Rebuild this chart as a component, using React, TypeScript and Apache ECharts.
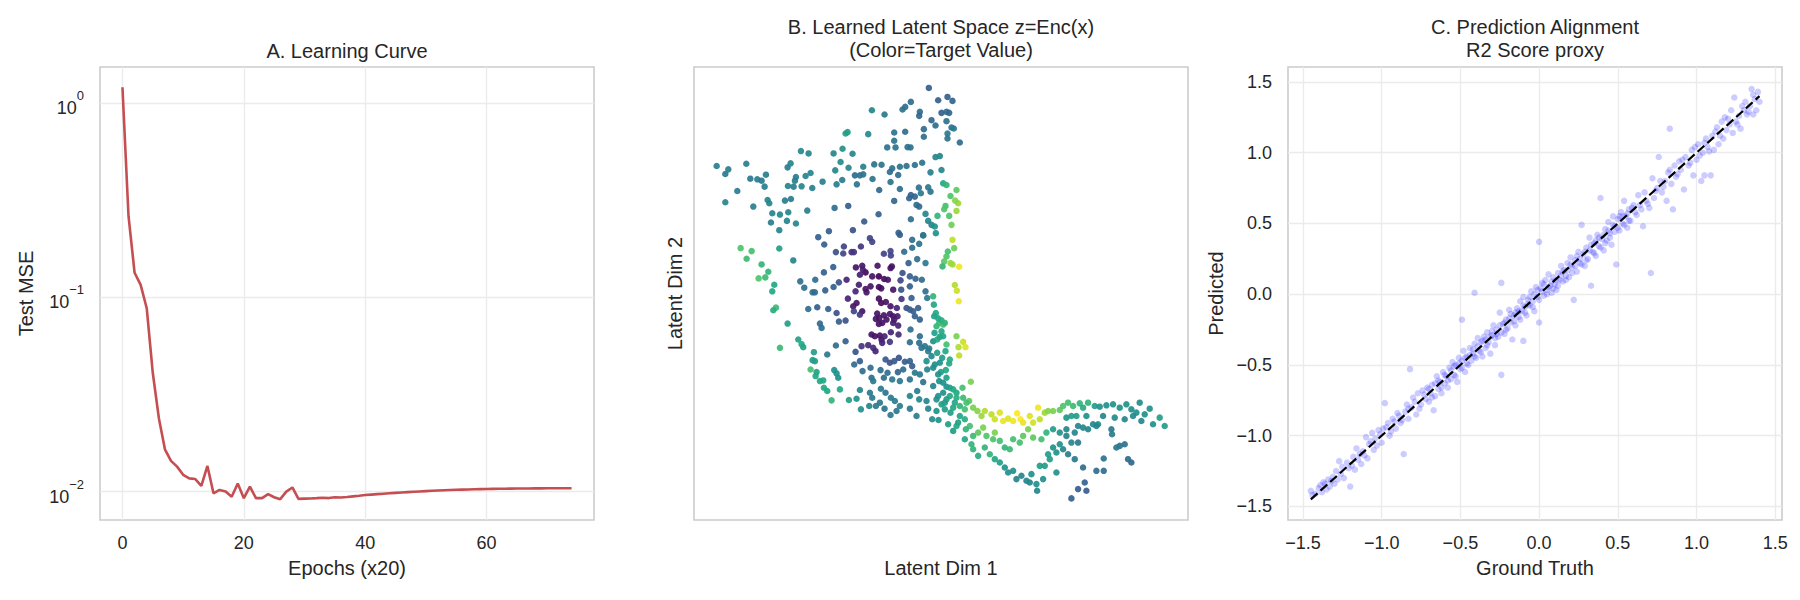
import React, { useEffect, useRef } from "react";
import * as echarts from "echarts";

// ---------- Panel A: learning curve ----------
const testMse = [
  1.21, 0.262, 0.134, 0.116, 0.088, 0.0408, 0.0239, 0.0165, 0.0144, 0.01345,
  0.0122, 0.0117, 0.0116, 0.0107, 0.01356, 0.0098, 0.0102, 0.01, 0.0094, 0.011,
  0.00925, 0.0106, 0.00925, 0.00925, 0.0097, 0.00935, 0.00914, 0.01, 0.0105, 0.00917,
  0.0092, 0.00922, 0.00925, 0.0093, 0.00926, 0.00935, 0.00933, 0.00938, 0.00945, 0.00952,
  0.0096, 0.00965, 0.0097, 0.00975, 0.0098, 0.00985, 0.0099, 0.00994, 0.00998, 0.01002,
  0.01006, 0.0101, 0.01013, 0.01016, 0.01019, 0.01022, 0.01024, 0.01026, 0.01028, 0.0103,
  0.01032, 0.01033, 0.01034, 0.01035, 0.01036, 0.01037, 0.01038, 0.01038, 0.01039, 0.01039,
  0.0104, 0.0104, 0.0104, 0.0104, 0.0104,
];
const epochTicks = [0, 20, 40, 60];
const mseTicks = [0.01, 0.1, 1];

// ---------- Panel B: latent space [z1, z2, target] ----------
const latentPoints = [
  [-0.53,5.87,.3],[-0.25,5.5,.3],[0.03,5.6,.3],[0.18,5.48,.32],[-1.07,5.45,.35],[-1.24,5.3,.38],[-1.32,5.22,.38],[-0.8,5.15,.35],[-0.82,5.03,.33],[-0.15,5.12,.3],
  [0,5.15,.35],[0.08,5.12,.33],[-2.24,5.2,.45],[-1.86,5.07,.4],[-0.45,4.9,.33],[-0.33,4.74,.36],[0,4.87,.38],[0.15,4.68,.38],[0.22,4.65,.4],[-0.68,4.63,.35],
  [-1.57,4.53,.38],[-1.24,4.55,.35],[-0.68,4.4,.35],[0.03,4.5,.4],[0.03,4.35,.38],[0.4,4.23,.35],[-1.57,4.28,.38],[-1.78,4.08,.38],[-1.53,4.08,.38],[-1.17,4.09,.38],
  [-1.08,4.08,.38],[-3.03,4.5,.55],[-2.97,4.54,.55],[-2.35,4.48,.47],[-3.12,4.04,.5],
  [-4.37,3.97,.47],[-4.14,3.9,.45],[-3.39,3.9,.45],[-2.82,3.89,.45],[-3.18,3.64,.48],[-6.9,3.52,.42],[-6.55,3.42,.42],[-6.64,3.28,.4],[-6.01,3.59,.42],[-5.89,3.14,.4],
  [-5.68,3.12,.42],[-5.55,3.08,.4],[-5.42,3.26,.42],[-4.77,3.48,.42],[-4.68,3.6,.45],[-4.52,3.19,.42],[-4.55,3.08,.42],[-4.23,3.22,.45],[-4.08,3.31,.45],[-3.72,3.05,.42],
  [-3.34,3.39,.45],[-2.94,3.47,.45],[-2.5,3.5,.43],[-2.17,3.57,.38],[-1.95,3.56,.38],[-1.63,3.45,.37],[-1.4,3.5,.38],[-1.2,3.52,.38],[-0.95,3.55,.38],[-0.73,3.62,.38],
  [-0.33,3.79,.45],[-0.2,3.82,.45],[-0.15,3.4,.45],[-0.48,3.33,.42],[-1.7,3.34,.36],[-1.45,3.25,.36],[-2.75,3.24,.36],[-2.6,3.24,.38],[-2.5,3.27,.38],[-2.22,3.13,.38],
  [-3.3,2.97,.42],[-3.13,3.1,.42],[-2.69,2.97,.38],[-1.68,3.04,.38],[-6.28,2.77,.42],[-5.46,2.9,.42],[-4.76,2.92,.45],[-4.59,2.9,.42],[-4.35,2.91,.45],[-4.03,2.86,.42],
  [-2.02,2.8,.33],[-1.4,2.83,.35],[-0.83,2.87,.38],[-0.55,2.88,.4],[-0.48,2.75,.38],[-1.07,2.65,.3],[-0.95,2.6,.32],[-1.12,2.55,.32],[-0.77,2.7,.4],[-1.57,2.47,.33],
  [-6.64,2.43,.45],[-5.37,2.5,.45],[-5.32,2.4,.45],[-4.85,2.48,.42],[-4.67,2.53,.42],[-5.8,2.3,.42],[-4.18,2.18,.42],[-3.36,2.26,.36],[-2.95,2.32,.3],[-0.9,2.35,.36],
  [-0.82,2.3,.34],[-5.23,2.1,.45],[-5,2.06,.45],[-4.75,2.13,.45],[-5.27,1.82,.42],[-4.79,1.87,.45],[-4.52,1.79,.45],[-5.02,1.59,.45],[-2.04,2.07,.3],[-2.47,1.85,.28],
  [-1.07,1.92,.35],[-0.63,2.08,.45],[-0.55,1.87,.45],[-0.45,1.75,.45],[-0.35,1.7,.5],[-0.32,1.5,.5],[-0.1,3,.6],[0,2.95,.65],[0.3,2.8,.75],[0.12,2.62,.72],
  [0.35,2.4,.85],[-0.03,2.32,.7],[-0.07,2.22,.72],[0.3,2.17,.85],[-0.27,2.02,.65],[0.08,2.02,.72],[0.15,1.75,.78],[-0.7,1.43,.35],
  [-3.85,1.38,.3],[-3.53,1.56,.3],[-2.81,1.59,.25],[-3.67,1.16,.3],[-3.32,0.93,.25],[-3.1,0.89,.2],[-3.08,1.1,.2],[-2.85,0.93,.15],[-2.78,0.93,.15],[-2.57,1.1,.15],
  [-2.3,1.35,.2],[-2.23,1.24,.2],[-1.88,0.88,.2],[-1.68,0.96,.22],[-1.67,0.83,.2],[-1.44,1.51,.3],[-1.4,1.45,.3],[-1.03,1.3,.35],[-0.82,1.18,.38],[-0.7,1.44,.4],
  [-1.27,0.94,.35],[-1.03,1.06,.35],[-0.88,0.72,.35],[-1.14,0.6,.3],[-0.63,0.6,.4],[-2.72,0.47,.05],[-2.53,0.52,.05],[-2.43,0.32,.02],[-2.23,0.2,.05],[-2.07,0.52,.05],
  [-2.03,0.2,0],[-1.87,0.12,.03],[-1.68,0.45,.05],[-1.64,0.5,.05],[-1.76,0.1,.05],[-2.51,0.4,.08],[-2.6,0.25,.08],[-3,0.1,.1],[-2.63,-0.05,.08],[-2.43,-0.18,.05],
  [-2.4,-0.28,.05],[-2.28,-0.1,.05],[-2.03,-0.12,.03],[-1.96,-0.16,.03],[-1.6,-0.2,.05],[-1.38,0.08,.2],[-1.32,0.3,.25],[-1.1,0.2,.3],[-0.93,0.13,.3],[-0.74,0.1,.35],
  [-1.1,-0.1,.3],[-1.36,-0.2,.25],[-2.73,-0.25,.1],[-3.23,0.02,.25],[-3.39,-0.12,.3],[-3.64,-0.22,.3],[-4.02,-0.28,.35],[-3.95,-0.28,.35],[-4.27,-0.14,.35],[-4.39,0.05,.35],
  [-3.94,0.1,.35],[-3.68,0.32,.3],[-3.4,0.48,.3],[-2.96,-0.47,.1],[-2.7,-0.6,.05],[-2.8,-0.7,.05],[-2.53,-0.85,.05],[-2.03,-0.47,.03],[-1.96,-0.6,.03],[-1.82,-0.57,.05],
  [-1.68,-0.7,.05],[-1.49,-0.75,.1],[-1.35,-0.48,.15],[-1.2,-0.75,.25],[-1.05,-0.45,.3],[-1.1,-0.8,.3],[-1,-0.85,.3],[-0.85,-0.75,.3],[-0.95,-1,.3],[-0.8,-1.1,.3],
  [-0.63,-0.25,.35],[-0.58,-0.45,.4],[-0.4,-0.4,.65],[-0.38,-0.65,.6],[-2.08,-0.92,.05],[-2.02,-1.05,.05],[-1.88,-0.97,.05],[-1.7,-0.93,.05],[-1.6,-1,.05],[-1.47,-1,.08],
  [-1.8,-1.1,.05],[-1.93,-1.2,.05],[-1.6,-1.2,.08],[-1.57,-1.1,.08],[-1.45,-1.28,.1],[-2.03,-1.23,.05],[-2.12,-1.08,.05],[-4.15,-0.78,.35],[-3.88,-0.73,.3],[-3.55,-0.78,.3],
  [-3.3,-0.9,.25],[-2.78,-0.85,.2],[-2.6,-0.95,.15],[-3.23,-1.16,.3],[-3.03,-1.13,.25],[-3.8,-1.22,.35],[-3.75,-1.35,.35],[-2.25,-1.55,.05],[-2.15,-1.6,.05],[-2,-1.58,.05],
  [-1.95,-1.7,.05],[-1.86,-1.6,.1],[-1.67,-1.48,.1],[-1.44,-1.55,.12],[-1.08,-1.4,.35],[-0.8,-1.6,.35],[-1.1,-1.78,.35],[-0.82,-1.8,.35],[-0.75,-1.95,.38],[-0.65,-1.9,.4],
  [-0.52,-1.97,.4],[-0.4,-1.75,.5],[-0.3,-1.3,.65],[-0.22,-1.2,.68],[-0.1,-1.25,.7],[-0.15,-1.45,.6],[-0.2,-1.62,.55],[-0.36,-1.5,.55],[-0.28,-1.7,.6],[0,-1.85,.7],
  [0.3,-1.6,.8],[0.5,-1.77,.92],[0.57,-1.93,.95],[0.36,-1.93,.88],[0.38,-2.18,.9],[0.26,2.48,.82],[0.18,1.3,.9],[0.23,1.05,.78],[0.04,0.95,.7],[0,0.8,.72],
  [-0.07,0.65,.75],[0.12,0.6,.85],[0.18,0.56,.85],[0.38,0.49,.98],[-0.12,0.5,.65],[0.25,-0.06,.88],[0.31,-0.23,.92],[0.37,-0.55,.98],[-2.55,-1.9,.15],[-2.35,-1.87,.12],
  [-2.2,-1.95,.12],[-2.13,-2.05,.1],[-1.93,-1.8,.1],[-1.7,-1.77,.15],[-3.03,-1.75,.3],[-3.32,-1.88,.35],[-2.73,-2.07,.25],[-3.58,-2.15,.4],
  [-6.18,1.05,.72],[-5.85,0.96,.7],[-6,0.73,.68],[-5.55,0.56,.65],[-5.02,1.04,.55],[-4.6,0.68,.45],[-5.35,0.34,.65],[-5.44,0.17,.68],[-5.64,0.14,.72],[-5.17,-0.05,.6],
  [-5.23,-0.25,.6],[-5.12,-0.74,.68],[-5.2,-0.82,.62],[-4.77,-1.22,.55],[-5,-1.95,.68],[-4.45,-1.7,.58],[-4.3,-1.93,.58],[-4.35,-1.84,.6],[-3.98,-2.08,.55],[-4.02,-2.32,.55],
  [-3.95,-2.35,.55],[-4.08,-2.6,.7],[-3.9,-2.68,.58],[-3.93,-2.8,.6],[-3.8,-2.95,.6],[-3.7,-2.93,.6],[-3.68,-3.15,.6],[-3.58,-3.25,.6],[-3.45,-3.53,.65],[-3.2,-3.2,.6],
  [-3.37,-2.62,.5],[-3.3,-2.72,.5],[-3.25,-2.85,.5],
  [-2.77,-2.45,.35],[-2.52,-2.65,.35],[-2.6,-2.35,.3],[-2.28,-2.55,.35],[-2.25,-2.85,.35],[-2.2,-2.95,.4],[-1.83,-2.3,.28],[-1.7,-2.4,.25],[-1.57,-2.35,.28],[-1.43,-2.25,.25],
  [-1.25,-2.37,.3],[-1.1,-2.35,.3],[-1.03,-2.5,.3],[-1.3,-2.6,.35],[-1.46,-2.68,.32],[-1.77,-2.7,.35],[-1.98,-2.62,.35],[-1.88,-2.85,.35],[-1.63,-2.9,.4],[-1.4,-2.95,.4],
  [-1.1,-2.9,.38],[-0.95,-2.7,.4],[-0.8,-2.75,.4],[-0.58,-2.6,.45],[-0.6,-2.35,.5],[-0.35,-2.45,.5],[-0.28,-2.1,.55],[-0.13,-2.25,.55],[0.08,-2.42,.6],[-0.02,-2.62,.6],
  [-0.17,-2.68,.55],[-0.7,-2.98,.38],[-0.4,-3.1,.45],[-0.22,-2.95,.5],[-0.1,-3,.5],[0,-3.12,.5],[0.1,-3.15,.55],[0.2,-3.2,.6],[0.3,-3.3,.6],[0.48,-3.15,.7],
  [0.73,-2.97,.8],[-2.6,-3.22,.45],[-2.3,-3.3,.4],[-2.23,-3.45,.4],[-1.97,-3.18,.4],[-1.83,-3.3,.38],[-2,-3.6,.4],[-1.67,-3.45,.4],[-1.55,-3.55,.42],[-1.4,-3.7,.42],
  [-1.1,-3.4,.45],[-0.88,-3.25,.42],[-0.82,-3.5,.45],[-0.6,-3.55,.45],[-0.55,-3.78,.45],[-2.93,-3.52,.55],[-2.7,-3.48,.5],[-2.57,-3.8,.5],[-2.32,-3.7,.45],[-2.12,-3.7,.4],
  [-1.86,-3.78,.38],[-1.68,-3.97,.4],[-1.5,-3.85,.4],[-1.1,-3.78,.4],[-0.9,-4,.42],[-0.43,-4.1,.48],[-0.24,-4.12,.5],[-0.3,-3.5,.5],[-0.15,-3.65,.55],[-0.05,-3.8,.55],
  [0.12,-3.9,.55],[0.25,-3.6,.6],[0.4,-3.7,.65],[0.55,-3.8,.7],[0.68,-3.55,.75],[0.8,-3.75,.8],[0.93,-3.85,.82],[1.05,-4,.85],[1.15,-3.85,.88],[1.35,-3.95,.9],
  [1.45,-4.1,.92],[1.6,-3.9,.95],[1.7,-4.15,.97],[1.85,-4.08,.95],[2,-4.15,.98],[2.12,-3.92,1],[2.22,-4.1,1],[2.3,-4.2,.97],[2.5,-4,.95],[2.75,-3.75,.98],
  [2.6,-4.2,.93],[2.8,-4.1,.9],[2.95,-3.9,.85],[3.05,-3.85,.82],[3.2,-3.85,.8],[3.4,-3.82,.75],[3.5,-3.7,.72],[3.65,-3.6,.7],[3.8,-3.7,.68],[4,-3.62,.65],
  [4.1,-3.75,.62],[4.25,-3.6,.65],[4.45,-3.7,.55],[4.6,-3.72,.5],[4.8,-3.68,.5],[5,-3.65,.5],[5.2,-3.75,.5],[5.4,-3.65,.5],[5.55,-3.8,.48],[5.7,-3.9,.5],
  [5.8,-3.6,.48],[5.95,-3.95,.5],[6.1,-3.78,.5],[6.2,-4.25,.5],[6.4,-4.05,.55],[6.55,-4.3,.55],[5.35,-4.1,.45],[5.6,-4,.47],[5.05,-4.05,.48],[4.95,-4.4,.4],
  [4.7,-4,.45],[4.55,-4.25,.5],[4.4,-4.25,.47],[4.25,-4.4,.45],[4.1,-4.35,.47],[3.95,-4.3,.45],[3.85,-4.5,.45],[3.6,-4.4,.45],[3.4,-4.5,.5],[3.2,-4.4,.55],
  [3,-4.5,.65],[2.85,-4.7,.7],[2.6,-4.65,.75],[2.45,-4.4,.8],[2.3,-4.6,.75],[2.2,-4.8,.7],[2,-4.7,.7],[1.9,-5,.68],[1.75,-4.95,.65],[1.6,-4.75,.7],
  [1.45,-4.5,.8],[1.4,-4.7,.72],[1.2,-4.6,.72],[1.1,-4.35,.8],[0.95,-4.5,.75],[0.8,-4.6,.68],[0.7,-4.3,.7],[0.58,-4.4,.65],[0.55,-4.7,.6],[0.75,-4.85,.65],
  [0.8,-5,.65],[0.95,-5.2,.62],[1.15,-4.95,.65],[1.3,-5.15,.65],[1.45,-5.3,.6],[1.6,-5.4,.55],[1.75,-5.55,.5],[1.85,-5.7,.5],[2,-5.65,.5],[2.1,-5.9,.45],
  [2.25,-5.8,.45],[2.4,-5.95,.45],[2.55,-5.75,.5],[2.5,-6,.45],[2.7,-6.05,.5],[2.72,-6.25,.45],[2.9,-5.9,.5],[2.8,-5.5,.55],[2.95,-5.5,.55],[3.1,-5.3,.55],
  [3.05,-5.15,.55],[3.2,-4.95,.5],[3.3,-5.1,.5],[3.3,-5.7,.5],[3.4,-4.85,.5],[3.5,-5,.45],[3.6,-4.6,.45],[3.75,-4.8,.45],[3.65,-5.15,.42],[3.85,-5.3,.4],
  [3.95,-4.8,.4],[4.1,-5.55,.35],[4.15,-6,.32],[3.95,-6.2,.3],[4.2,-6.25,.3],[3.75,-6.48,.3],[4.5,-5.65,.35],[4.72,-5.65,.35],[4.72,-5.28,.38],[4.97,-4.55,.42],
  [5.2,-4.9,.38],[5.35,-4.85,.38],[5.45,-5.3,.35],[5.55,-5.4,.33],[5.85,-4.15,.45],[5.1,-4.95,.4],[4.5,-4.3,.45],[4.2,-4,.5],[3.9,-4,.55],[3.75,-4,.55],
  [3.6,-4.05,.52],[0.1,-3.4,.6],[0.3,-3.45,.62],[0.2,-3.75,.6],[0.4,-4,.6],[0.35,-4.2,.55],[0.55,-4.1,.62],[0,-3.5,.55],[-0.1,-3.3,.5],[-0.3,-3.85,.5],
  [0.05,-4.25,.55],[0.2,-4.45,.55],[0.3,-4.3,.6],[0.6,-3.6,.7],[0.5,-3.45,.68],[-0.25,-2.75,.5],[0,-2.85,.55],[-0.25,-3.4,.5],[-0.05,-3.6,.55],[-0.37,-1,.55],
  [-0.25,-1.06,.6],[-0.15,-1.12,.62],[-0.05,-1.2,.65],[-0.32,-0.9,.6],[-0.1,-1.6,.6],[-0.03,-2.05,.6],[0.1,-2.3,.62],[-0.2,-2.4,.5],[-0.45,-2.2,.45],[-0.55,-2.05,.42],
  [-0.4,-2.55,.48],
];

// ---------- Panel C: ground truth vs predicted ----------
const alignmentPoints = [
  [-1.45,-1.39],[-1.42,-1.41],[-1.40,-1.37],[-1.38,-1.40],[-1.37,-1.33],[-1.35,-1.38],[-1.34,-1.31],[-1.33,-1.36],[-1.31,-1.29],[-1.30,-1.34],
  [-1.29,-1.25],[-1.28,-1.31],[-1.27,-1.18],[-1.25,-1.22],[-1.24,-1.30],[-1.22,-1.19],[-1.20,-1.36],[-1.19,-1.21],[-1.18,-1.15],[-1.17,-1.24],
  [-1.16,-1.09],[-1.15,-1.17],[-1.13,-1.20],[-1.12,-1.11],[-1.10,-1.01],[-1.09,-1.16],[-1.08,-1.06],[-1.06,-0.98],[-1.05,-1.10],[-1.04,-1.02],
  [-1.02,-0.96],[-1.00,-1.05],[-0.99,-0.95],[-0.98,-0.77],[-0.96,-0.91],[-0.95,-1.00],[-0.93,-0.88],[-0.91,-0.95],[-0.90,-0.84],[-0.88,-0.91],
  [-0.86,-1.13],[-0.85,-0.83],[-0.84,-0.78],[-0.83,-0.88],[-0.82,-0.53],[-0.81,-0.80],[-0.80,-0.73],[-0.78,-0.85],[-0.77,-0.70],[-0.75,-0.78],
  [-0.74,-0.68],[-0.72,-0.74],[-0.71,-0.66],[-0.70,-0.76],[-0.69,-0.70],[-0.68,-0.64],[-0.67,-0.82],[-0.66,-0.72],[-0.65,-0.58],[-0.64,-0.67],
  [-0.63,-0.62],[-0.62,-0.70],[-0.61,-0.55],[-0.60,-0.63],[-0.59,-0.58],[-0.58,-0.66],[-0.57,-0.52],[-0.56,-0.60],[-0.55,-0.48],[-0.54,-0.57],
  [-0.53,-0.50],[-0.52,-0.62],[-0.51,-0.45],[-0.50,-0.53],[-0.49,-0.47],[-0.48,-0.40],[-0.47,-0.55],[-0.46,-0.44],[-0.45,-0.50],[-0.44,-0.38],
  [-0.43,-0.47],[-0.42,-0.42],[-0.41,-0.35],[-0.40,-0.45],[-0.39,-0.31],[-0.38,-0.40],[-0.37,-0.34],[-0.36,-0.44],[-0.35,-0.30],[-0.34,-0.38],
  [-0.33,-0.27],[-0.32,-0.34],[-0.31,-0.42],[-0.30,-0.29],[-0.29,-0.22],[-0.28,-0.36],[-0.27,-0.25],[-0.26,-0.30],[-0.25,-0.13],[-0.24,-0.57],
  [-0.23,-0.21],[-0.22,-0.28],[-0.21,-0.18],[-0.20,-0.24],[-0.19,-0.11],[-0.18,-0.20],[-0.17,-0.32],[-0.16,-0.15],[-0.15,-0.22],[-0.14,-0.10],
  [-0.13,-0.16],[-0.12,-0.05],[-0.11,-0.12],[-0.10,-0.33],[-0.10,-0.02],[-0.09,-0.09],[-0.08,-0.15],[-0.07,-0.04],[-0.06,-0.08],[-0.05,0.02],
  [-0.04,-0.05],[-0.03,-0.12],[-0.02,0.05],[-0.01,-0.02],[0.00,0.37],[0.00,-0.20],[0.01,0.04],[0.02,0.08],[0.03,-0.01],[0.04,0.10],
  [0.05,0.03],[0.06,0.14],[0.07,0.06],[0.08,0.01],[0.09,0.12],[0.10,0.07],[0.11,0.03],[0.12,0.15],[0.13,0.10],[0.14,0.20],
  [0.15,0.09],[0.16,0.17],[0.17,0.13],[0.18,0.22],[0.19,0.12],[0.20,0.26],[0.21,0.19],[0.22,-0.04],[0.23,0.24],[0.24,0.16],
  [0.25,0.30],[0.26,0.22],[0.27,0.49],[0.28,0.28],[0.29,0.20],[0.30,0.33],[0.31,0.25],[0.32,0.40],[0.33,0.06],[0.34,0.30],
  [0.35,0.36],[0.36,0.27],[0.37,0.42],[0.38,0.34],[0.39,0.68],[0.40,0.39],[0.41,0.31],[0.42,0.46],[0.43,0.38],[0.44,0.51],
  [0.45,0.43],[0.46,0.35],[0.47,0.55],[0.48,0.48],[0.49,0.21],[0.50,0.53],[0.51,0.45],[0.52,0.58],[0.53,0.50],[0.54,0.66],
  [0.55,0.55],[0.56,0.47],[0.57,0.60],[0.58,0.52],[0.60,0.63],[0.62,0.56],[0.63,0.70],[0.65,0.60],[0.66,0.48],[0.68,0.66],
  [0.70,0.61],[0.71,0.15],[0.72,0.82],[0.73,0.68],[0.75,0.75],[0.76,0.97],[0.78,0.72],[0.80,0.80],[0.81,0.66],[0.82,0.86],
  [0.84,0.78],[0.85,0.60],[0.86,0.91],[0.87,0.83],[0.89,0.94],[0.90,0.88],[0.92,0.74],[0.93,0.97],[0.95,0.91],[0.97,1.02],
  [0.98,0.84],[1.00,0.95],[1.01,1.06],[1.03,0.80],[1.04,1.00],[1.06,1.10],[1.07,1.04],[1.09,0.84],[1.10,1.12],[1.11,1.02],
  [1.13,1.18],[1.14,1.06],[1.16,1.22],[1.17,1.10],[1.18,1.25],[1.19,1.16],[1.21,1.20],[1.22,1.30],[1.23,1.14],[1.24,1.39],
  [1.25,1.22],[1.27,1.26],[1.28,1.17],[1.30,1.30],[1.31,1.36],[1.32,1.27],[1.34,1.33],[1.35,1.45],[1.36,1.27],[1.37,1.38],
  [1.38,1.30],[1.39,1.43],[1.40,1.36],
  [-0.79,-0.76],[-0.76,-0.81],[-0.73,-0.71],[-0.70,-0.67],[-0.68,-0.73],[-0.66,-0.63],[-0.64,-0.61],[-0.62,-0.66],[-0.60,-0.57],[-0.58,-0.61],
  [-0.56,-0.54],[-0.54,-0.51],[-0.53,-0.58],[-0.51,-0.49],[-0.49,-0.52],[-0.47,-0.45],[-0.46,-0.49],[-0.44,-0.43],[-0.42,-0.39],[-0.41,-0.44],
  [-0.39,-0.37],[-0.37,-0.41],[-0.36,-0.33],[-0.34,-0.32],[-0.33,-0.36],[-0.31,-0.30],[-0.30,-0.26],[-0.28,-0.31],[-0.27,-0.28],[-0.25,-0.22],
  [-0.24,-0.27],[-0.22,-0.20],[-0.21,-0.25],[-0.19,-0.17],[-0.18,-0.14],[-0.16,-0.19],[-0.15,-0.13],[-0.13,-0.12],[-0.12,-0.18],[-0.10,-0.08],
  [-0.09,-0.13],[-0.07,-0.07],[-0.06,-0.02],[-0.04,-0.09],[-0.03,0.00],[-0.01,0.03],[0.00,-0.04],[0.02,0.02],[0.03,0.07],[0.05,0.00],
  [0.06,0.05],[0.08,0.09],[0.09,0.04],[0.11,0.10],[0.12,0.06],[0.14,0.13],[0.15,0.16],[0.17,0.10],[0.18,0.17],[0.20,0.21],
  [0.21,0.15],[0.23,0.20],[0.24,0.27],[0.26,0.25],[0.27,0.21],[0.29,0.30],[0.30,0.24],[0.32,0.31],[0.33,0.35],[0.35,0.29],
  [0.36,0.38],[0.38,0.40],[0.39,0.33],[0.41,0.42],[0.42,0.36],[0.44,0.45],[0.45,0.40],[0.47,0.49],[0.48,0.44],[0.50,0.47],
  [0.51,0.55],[0.53,0.55],[0.54,0.49],[0.56,0.57],[0.57,0.52],[0.59,0.61],[0.61,0.58],[0.64,0.63],[0.67,0.72],[0.69,0.64],
  [0.74,0.73],[0.77,0.80],[0.79,0.76],[0.83,0.88],[0.88,0.85],[0.91,0.95],[0.96,0.93],[0.99,1.04],[1.02,0.98],[1.05,1.07],
  [1.08,1.01],[1.12,1.15],[1.15,1.12],[1.20,1.24],[1.26,1.20],[1.29,1.33],[1.33,1.29],[1.36,1.41],
  [-1.44,-1.42],[-1.39,-1.35],[-1.36,-1.34],[-1.32,-1.32],[-1.26,-1.27],[-1.21,-1.23],[-1.14,-1.13],[-1.11,-1.14],[-1.07,-1.04],[-1.03,-1.07],
  [-1.01,-0.99],[-0.97,-0.94],[-0.94,-0.97],[-0.92,-0.90],[-0.89,-0.86],[-0.87,-0.89],[-0.83,-0.81],
  [-0.49,-0.18],[-0.41,0.01],[-0.24,0.08],[0.83,1.17],[1.05,0.84],
];
const identityEnds = [-1.45, 1.4];
const alignTicks = [-1.5, -1.0, -0.5, 0.0, 0.5, 1.0, 1.5];

const viridis = ["#440154", "#482475", "#414487", "#355f8d", "#2a788e", "#21918c", "#22a884", "#44bf70", "#7ad151", "#bddf26", "#fde725"];

const FONT = "'Liberation Sans', Arial, Helvetica, sans-serif";
const TXT = "#262626";
const GRIDLINE = "#ebebeb";
const FRAME = "#cccccc";

const fmtSigned = (v: number) => (v < 0 ? "\u2212" : "") + Math.abs(v).toFixed(1);

function baseAxis(extra: any) {
  return {
    axisLine: { show: false },
    axisTick: { show: false },
    splitLine: { show: true, showMinLine: false, showMaxLine: false, lineStyle: { color: GRIDLINE, width: 1.3 } },
    nameLocation: "middle",
    nameTextStyle: { fontSize: 20, color: TXT, fontFamily: FONT },
    ...extra,
  };
}

const labelStyle = { fontSize: 18, color: TXT, fontFamily: FONT, showMinLabel: false, showMaxLabel: false };

export default function App() {
  const ref = useRef<HTMLDivElement>(null);
  useEffect(() => {
    if (!ref.current) return;
    const chart = echarts.init(ref.current, null, { renderer: "svg" });
    const titleStyle = { fontSize: 20, fontWeight: "normal", color: TXT, fontFamily: FONT, lineHeight: 23 };
    const gridBase = { top: 67, width: 494, height: 453, show: true, borderColor: FRAME, borderWidth: 1.6, backgroundColor: "transparent", containLabel: false, outerBoundsMode: "none" };
    const option: any = {
      animation: false,
      backgroundColor: "#ffffff",
      textStyle: { fontFamily: FONT },
      title: [
        { text: "A. Learning Curve", left: 347, top: 39, textAlign: "center", padding: 0, textStyle: titleStyle },
        { text: "B. Learned Latent Space z=Enc(x)\n(Color=Target Value)", left: 941, top: 15, textAlign: "center", padding: 0, textStyle: titleStyle },
        { text: "C. Prediction Alignment\nR2 Score proxy", left: 1535, top: 15, textAlign: "center", padding: 0, textStyle: titleStyle },
      ],
      grid: [
        { ...gridBase, left: 100 },
        { ...gridBase, left: 694 },
        { ...gridBase, left: 1288 },
      ],
      xAxis: [
        baseAxis({
          gridIndex: 0, type: "value", min: -3.7, max: 77.7,
          name: "Epochs (x20)", nameGap: 38,
          axisLabel: { ...labelStyle, margin: 14, formatter: (v: number) => (epochTicks.includes(v) ? String(v) : "") },
        }),
        baseAxis({
          gridIndex: 1, type: "value", min: -7.58, max: 7.25,
          name: "Latent Dim 1", nameGap: 38,
          splitLine: { show: false }, axisLabel: { show: false },
        }),
        baseAxis({
          gridIndex: 2, type: "value", min: -1.595, max: 1.543,
          name: "Ground Truth", nameGap: 38,
          axisLabel: { ...labelStyle, margin: 14, formatter: (v: number) => (alignTicks.some((t) => Math.abs(t - v) < 1e-6) ? fmtSigned(v) : "") },
        }),
      ],
      yAxis: [
        baseAxis({
          gridIndex: 0, type: "log", logBase: 10, min: 0.00714, max: 1.538,
          name: "Test MSE", nameGap: 64,
          axisLabel: {
            ...labelStyle, margin: 16,
            formatter: (v: number) => {
              const l = Math.log10(v);
              const k = Math.round(l);
              if (Math.abs(l - k) > 1e-6 || !mseTicks.some((t) => Math.abs(Math.log10(t) - k) < 1e-6)) return "";
              return `{b|10}{s|${k < 0 ? "\u2212" + -k : k}}`;
            },
            rich: {
              b: { fontSize: 18, color: TXT, fontFamily: FONT, verticalAlign: "bottom", lineHeight: 18 },
              s: { fontSize: 13, color: TXT, fontFamily: FONT, verticalAlign: "top", padding: [0, 0, 15, 0] },
            },
          },
        }),
        baseAxis({
          gridIndex: 1, type: "value", min: -7.13, max: 6.5,
          name: "Latent Dim 2", nameGap: 9,
          splitLine: { show: false }, axisLabel: { show: false },
        }),
        baseAxis({
          gridIndex: 2, type: "value", min: -1.596, max: 1.606,
          name: "Predicted", nameGap: 62,
          axisLabel: { ...labelStyle, margin: 16, formatter: (v: number) => (alignTicks.some((t) => Math.abs(t - v) < 1e-6) ? fmtSigned(v) : "") },
        }),
      ],
      visualMap: {
        type: "continuous", show: false, min: 0, max: 1, dimension: 2, seriesIndex: 1,
        inRange: { color: viridis },
      },
      series: [
        {
          type: "line", xAxisIndex: 0, yAxisIndex: 0, symbol: "none",
          data: testMse.map((v, i) => [i, v]),
          lineStyle: { color: "#c44e52", width: 2.6 },
        },
        {
          type: "scatter", xAxisIndex: 1, yAxisIndex: 1, symbolSize: 6.5,
          data: latentPoints,
          itemStyle: { opacity: 0.92 },
        },
        {
          type: "scatter", xAxisIndex: 2, yAxisIndex: 2, symbolSize: 6.5,
          data: alignmentPoints,
          itemStyle: { color: "#0000ff", opacity: 0.2 },
        },
        {
          type: "line", xAxisIndex: 2, yAxisIndex: 2, symbol: "none", z: 5,
          data: [[identityEnds[0], identityEnds[0]], [identityEnds[1], identityEnds[1]]],
          lineStyle: { color: "#000000", width: 2.2, type: [9, 4] },
        },
      ],
    };
    chart.setOption(option);
    return () => chart.dispose();
  }, []);
  return <div ref={ref} style={{ position: "absolute", left: 0, top: 0, width: 1800, height: 600 }} />;
}
